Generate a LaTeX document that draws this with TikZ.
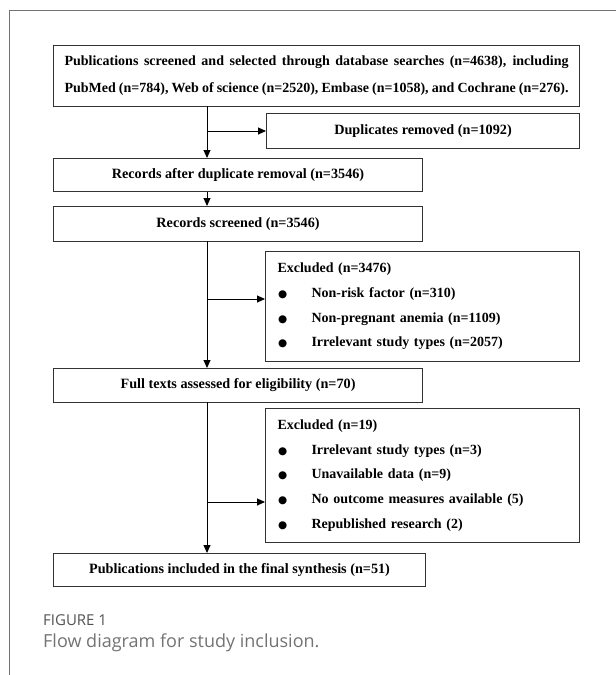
\documentclass[tikz,border=0pt]{standalone}
\usepackage{fontspec}
\setmainfont{Liberation Serif}
\newfontfamily\capfont{Open Sans}
\newfontfamily\dejavu{DejaVu Sans}
\usetikzlibrary{arrows.meta}
\newcommand\bul{\makebox[34pt][l]{\hspace{0.5pt}{\dejavu\fontsize{10.5}{10.5}\selectfont ●}}}
\tikzset{
  box/.style={draw=black!80, line width=1.1pt, anchor=north west, inner sep=0pt,
    font=\bfseries\fontsize{14.2}{16}\selectfont, align=center},
  exbox/.style={box, align=left, inner xsep=12pt, font=\bfseries\fontsize{14}{24.7}\selectfont},
  link/.style={line width=0.9pt, -{Triangle[length=8pt,width=7pt]}},
  frame/.style={line width=1pt, draw=black!55},
}
\begin{document}
\begin{tikzpicture}[x=1pt,y=-1pt]
\useasboundingbox (0,0) rectangle (616,675);
\coordinate (f1) at (9,675);
\coordinate (f2) at (9,10);
\coordinate (f3) at (616,10);
\draw[frame] (f1) -- (f2) -- (f3);

\node[box, minimum width=526pt, minimum height=61pt] (b1) at (53,45)
 {\parbox{504pt}{\fontsize{14}{27}\selectfont\bfseries
 \makebox[504pt][s]{Publications screened and selected through database searches (n=4638), including}\\
 \makebox[504pt][s]{PubMed (n=784), Web of science (n=2520), Embase (n=1058), and Cochrane (n=276).}}};

\node[box, minimum width=313pt, minimum height=35pt] (dup) at (266,113) {Duplicates removed (n=1092)};
\node[box, minimum width=369pt, minimum height=33pt] (rec) at (53,158) {Records after duplicate removal (n=3546)};
\node[box, minimum width=369pt, minimum height=35pt] (scr) at (53,206) {Records screened (n=3546)};
\node[exbox, minimum width=314pt, minimum height=110pt, text width=290pt] (ex1) at (265,251)
 {Excluded (n=3476)\\
  \bul Non-risk factor (n=310)\\
  \bul Non-pregnant anemia (n=1109)\\
  \bul Irrelevant study types (n=2057)};
\node[box, minimum width=369pt, minimum height=34pt] (full) at (53,368) {Full texts assessed for eligibility (n=70)};
\node[exbox, minimum width=314pt, minimum height=134pt, text width=290pt] (ex2) at (265,408)
 {Excluded (n=19)\\
  \bul Irrelevant study types (n=3)\\
  \bul Unavailable data (n=9)\\
  \bul No outcome measures available (5)\\
  \bul Republished research (2)};
\node[box, minimum width=372pt, minimum height=33pt] (fin) at (53,553) {Publications included in the final synthesis (n=51)};

\coordinate (s1) at (207,106);
\coordinate (s2) at (207,131);
\coordinate (s3) at (207,241);
\coordinate (s4) at (207,299);
\coordinate (s5) at (207,402);
\coordinate (s6) at (207,502);

\draw[link] (s1) -- (s1 |- rec.north);
\draw[link] (s2) -- (s2 -| dup.west);
\draw[link] (s1 |- rec.south) -- (s1 |- scr.north);
\draw[link] (s3) -- (s3 |- full.north);
\draw[link] (s4) -- (s4 -| ex1.west);
\draw[link] (s5) -- (s5 |- fin.north);
\draw[link] (s6) -- (s6 -| ex2.west);

\node[anchor=west, inner sep=0pt, text=black!68, font=\capfont\fontsize{15}{15}\selectfont] (cap1) at (43,620) {FIGURE 1};
\node[anchor=west, inner sep=0pt, text=black!55, font=\capfont\fontsize{18}{18}\selectfont] (cap2) at (43,643) {Flow diagram for study inclusion.};
\end{tikzpicture}
\end{document}
